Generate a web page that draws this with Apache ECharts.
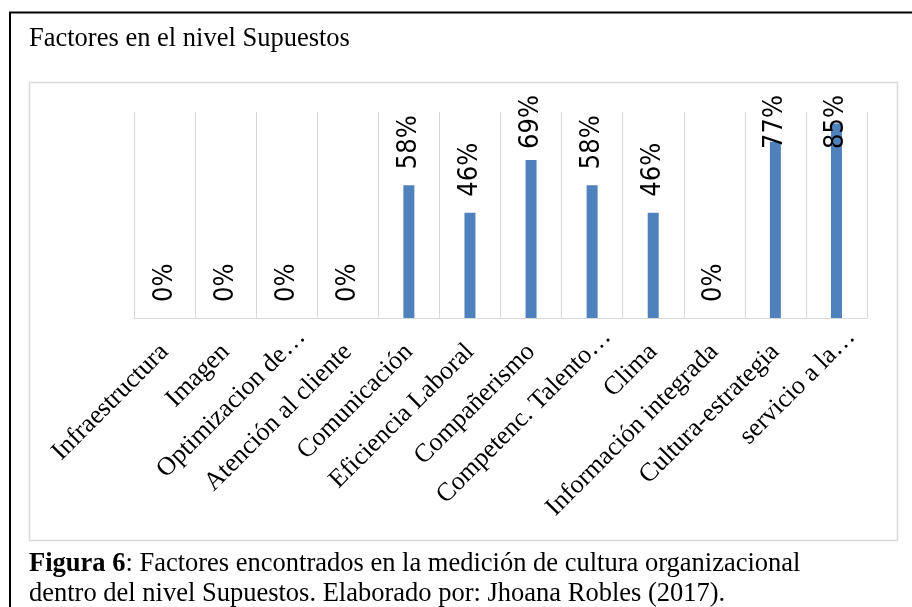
<!DOCTYPE html>
<html>
<head>
<meta charset="utf-8">
<title>Factores en el nivel Supuestos</title>
<script src="https://cdn.jsdelivr.net/npm/echarts@6/dist/echarts.min.js"></script>
<style>
  html, body { margin: 0; padding: 0; background: #fff; }
  #main { width: 912px; height: 607px; }
</style>
</head>
<body>
<div id="main"></div>
<script>
// data
var categories = ['Infraestructura', 'Imagen', 'Optimizacion de…', 'Atención al cliente',
  'Comunicación', 'Eficiencia Laboral', 'Compañerismo', 'Competenc. Talento…', 'Clima',
  'Información integrada', 'Cultura-estrategia', 'servicio a la…'];
var values = [0, 0, 0, 0, 58, 46, 69, 58, 46, 0, 77, 85];
var yMax = 90;

var serif = "'Liberation Serif', 'Times New Roman', serif";
var narrow = "'Liberation Sans Narrow', 'DejaVu Sans Condensed', 'Liberation Sans', sans-serif";
var labelTop = 95; // labels can't go above this line

var chart = echarts.init(document.getElementById('main'), null, { renderer: 'canvas' });

// truncated names sit a bit further out along the slant, like in the original
var xData = categories.map(function (c) {
  if (c.indexOf('…') >= 0) {
    return { value: c, textStyle: { padding: [0, -21, 0, 0] } };
  }
  return c;
});

var option = {
  backgroundColor: '#fff',
  animation: false,
  title: {
    text: 'Factores en el nivel Supuestos',
    left: 24,
    top: 21,
    textStyle: { fontFamily: serif, fontSize: 26.5, fontWeight: 'normal', color: '#000' }
  },
  grid: { left: 134, right: 45, top: 112, bottom: 289, containLabel: false },
  xAxis: {
    type: 'category',
    data: xData,
    axisLine: { lineStyle: { color: '#d9d9d9', width: 1 } },
    axisTick: { show: false },
    splitLine: { show: true, interval: 0, lineStyle: { color: '#d9d9d9', width: 1 } },
    axisLabel: {
      interval: 0,
      rotate: 45,
      margin: 30,
      fontFamily: serif,
      fontSize: 26,
      color: '#000'
    }
  },
  yAxis: {
    type: 'value',
    min: 0,
    max: yMax,
    show: false,
    splitLine: { show: false }
  },
  series: [{
    type: 'bar',
    data: values,
    barWidth: 11,
    itemStyle: { color: '#4f81bd' },
    label: {
      show: true,
      position: 'top',
      distance: 16,
      rotate: 90,
      align: 'left',
      verticalAlign: 'middle',
      fontFamily: narrow,
      fontSize: 27,
      color: '#000',
      formatter: '{c}%'
    },
    labelLayout: function (params) {
      var r = params.labelRect;
      if (r.y < labelTop) {
        var len = Math.max(r.width, r.height);
        return {
          x: params.rect.x + params.rect.width / 2,
          y: labelTop + len
        };
      }
      return {};
    }
  }],
  graphic: [
    {
      type: 'rect',
      z: -10,
      shape: { x: 10, y: 12.5, width: 1000, height: 1000 },
      style: { fill: null, stroke: '#000', lineWidth: 2 }
    },
    {
      type: 'rect',
      z: -10,
      shape: { x: 29.5, y: 82.5, width: 868, height: 458 },
      style: { fill: null, stroke: '#d9d9d9', lineWidth: 1.5 }
    },
    {
      type: 'text',
      left: 29,
      top: 549,
      style: {
        text: '{b|Figura 6}: Factores encontrados en la medición de cultura organizacional\ndentro del nivel Supuestos. Elaborado por: Jhoana Robles (2017).',
        font: '26.5px ' + serif,
        fill: '#000',
        lineHeight: 30,
        rich: {
          b: { fontWeight: 'bold', fontFamily: serif, fontSize: 26.5, lineHeight: 30 }
        }
      }
    }
  ]
};

chart.setOption(option);
</script>
</body>
</html>
